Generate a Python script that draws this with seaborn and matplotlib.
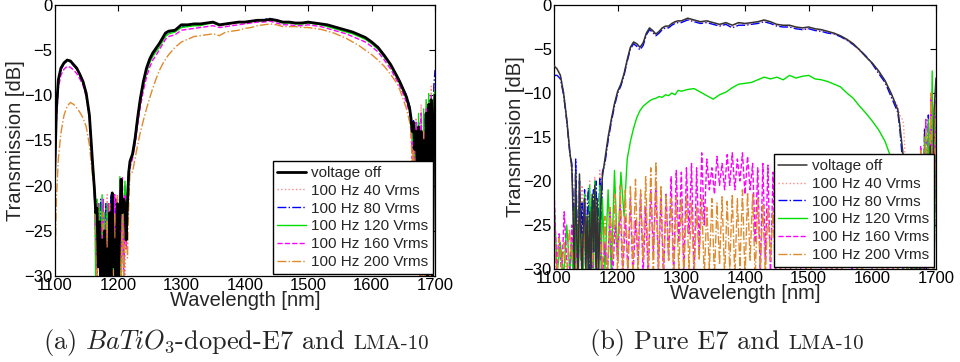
import numpy as np
import matplotlib
matplotlib.use("Agg")
import matplotlib.pyplot as plt
from matplotlib.offsetbox import TextArea, HPacker, AnnotationBbox
import seaborn as sns

sns.set_style("white")
plt.rcParams['font.family'] = ['Liberation Sans', 'DejaVu Sans']
plt.rcParams['mathtext.fontset'] = 'cm'

labels = ["voltage off", "100 Hz 40 Vrms", "100 Hz 80 Vrms",
          "100 Hz 120 Vrms", "100 Hz 160 Vrms", "100 Hz 200 Vrms"]

# ---------------- panel (a): BaTiO3-doped E7 ----------------
wl_a = ([1100, 1103, 1106, 1110, 1115, 1120, 1125, 1130, 1135, 1140, 1145, 1150, 1155, 1160]
        + list(range(1163, 1220, 2))
        + [1223, 1227, 1231, 1235, 1240, 1245, 1250, 1255, 1260, 1265, 1270, 1275]
        + list(range(1280, 1641, 10))
        + [1645, 1650, 1655, 1660]
        + list(range(1662, 1701, 2)))

a_off = ([-19.5, -11.5, -8.3, -7.0, -6.4, -6.1, -6.2, -6.6, -7.0, -7.7, -8.5, -9.8, -12.2, -17.5]
         + [-20.5, -23, -22.5, -29, -24, -31, -26, -31, -25, -30, -27, -31, -23, -30, -20.8,
            -29, -26, -31, -22, -30, -24, -19.3, -23, -21.5, -22, -26, -22, -18.5, -17.3]
         + [-16.5, -14.8, -12.5, -10.5, -8.5, -7.0, -6.0, -5.3, -4.8, -4.3, -3.7, -3.1]
         + [-2.9, -2.8, -2.2, -2.2, -2.1, -2.1, -2.0, -1.9, -2.2, -2.1,
            -2.0, -1.9, -1.9, -1.8, -1.7, -1.7, -1.6, -1.7, -1.9, -1.9,
            -2.0, -2.0, -1.9, -2.0, -2.1, -2.2, -2.4, -2.6, -2.8, -3.0,
            -3.3, -3.6, -4.1, -4.7, -5.6, -6.6, -7.9]
         + [-8.6, -9.4, -10.2, -11.5]
         + [-12.5, -14, -13, -16, -14, -18, -13.5, -20, -14, -24, -15, -27, -12, -30, -11, -29, -10.5, -31, -14, -10])

a_40 = ([-19.8, -11.8, -8.5, -7.1, -6.5, -6.2, -6.3, -6.7, -7.1, -7.8, -8.6, -9.9, -12.4, -17.8]
        + [-21, -24, -21.5, -28, -23, -30, -22, -31, -24, -29, -21, -31, -25, -30, -22,
           -31, -23, -29, -21, -30, -25, -20.5, -27, -22, -30, -21, -24, -19, -17.8]
        + [-16.8, -15.1, -12.9, -10.9, -8.9, -7.4, -6.4, -5.6, -5.1, -4.6, -4.0, -3.4]
        + [-3.1, -2.9, -2.5, -2.4, -2.3, -2.3, -2.1, -2.0, -2.3, -2.2,
           -2.1, -2.0, -2.0, -1.9, -1.8, -1.7, -1.6, -1.8, -2.0, -2.0,
           -2.1, -2.1, -2.0, -2.1, -2.2, -2.3, -2.5, -2.7, -2.9, -3.1,
           -3.4, -3.7, -4.2, -4.8, -5.7, -6.7, -8.0]
        + [-8.7, -9.5, -10.3, -11.3]
        + [-12, -15, -13.5, -19, -12.5, -22, -14, -25, -11, -28, -13, -31, -10.5, -27, -12, -30, -9, -26, -10, -8.5])

a_80 = ([-20.0, -12.0, -8.6, -7.2, -6.5, -6.2, -6.3, -6.7, -7.1, -7.8, -8.6, -9.9, -12.3, -17.6]
        + [-20.8, -26, -31, -22, -29, -21.5, -31, -24, -28, -22, -31, -25, -29, -21, -31,
           -23, -30, -21.5, -31, -26, -20, -31, -22, -29, -20, -25, -21, -18.5, -17.6]
        + [-16.4, -14.6, -12.4, -10.4, -8.5, -7.1, -6.2, -5.5, -5.0, -4.5, -3.9, -3.3]
        + [-3.0, -2.9, -2.4, -2.3, -2.2, -2.2, -2.0, -1.9, -2.2, -2.1,
           -2.0, -1.9, -1.9, -1.8, -1.7, -1.6, -1.5, -1.7, -1.9, -1.9,
           -2.0, -2.0, -1.9, -2.0, -2.1, -2.2, -2.4, -2.6, -2.8, -3.0,
           -3.3, -3.6, -4.1, -4.7, -5.6, -6.6, -7.9]
        + [-8.5, -9.3, -10.0, -11.2]
        + [-13, -16, -12.8, -20, -14.5, -23, -13, -27, -15, -30, -12, -31, -14, -28, -10.5, -31, -11, -25, -9, -7.2])

a_120 = ([-19.6, -11.6, -8.4, -7.0, -6.4, -6.1, -6.2, -6.6, -7.0, -7.7, -8.5, -9.8, -12.2, -17.4]
         + [-20, -31, -21.5, -27, -22, -31, -21, -29, -23, -31, -22, -28, -24, -31, -21,
            -30, -25, -31, -22, -29, -19, -31, -20, -27, -19.5, -23, -20, -18.2, -17.5]
         + [-16.7, -15.0, -12.8, -10.9, -9.0, -7.5, -6.4, -5.7, -5.2, -4.7, -4.1, -3.5]
         + [-3.2, -3.0, -2.5, -2.4, -2.3, -2.3, -2.1, -2.0, -2.3, -2.1,
            -2.0, -1.9, -1.9, -1.8, -1.7, -1.7, -1.6, -1.8, -2.0, -2.0,
            -2.1, -2.1, -2.0, -2.1, -2.2, -2.4, -2.6, -2.8, -3.0, -3.2,
            -3.5, -3.8, -4.3, -4.9, -5.8, -6.8, -8.1]
         + [-8.8, -9.6, -10.4, -11.6]
         + [-13.5, -15, -14, -21, -13, -24, -12, -28, -14, -31, -11.5, -29, -10.5, -31, -9.8, -27, -12, -30, -10, -9.5])

a_160 = ([-21.0, -12.8, -9.2, -7.8, -7.1, -6.8, -6.9, -7.2, -7.6, -8.2, -8.9, -10.2, -12.6, -18.0]
         + [-21, -25, -31, -22, -29, -24, -31, -21.5, -30, -25, -31, -22, -28, -31, -23,
            -29, -21, -31, -24, -30, -20.5, -28, -19, -31, -21, -27, -22, -19, -18]
         + [-17.0, -15.4, -13.3, -11.4, -9.5, -8.0, -6.9, -6.1, -5.6, -5.0, -4.4, -3.8]
         + [-3.5, -3.3, -2.8, -2.7, -2.6, -2.5, -2.4, -2.3, -2.5, -2.4,
            -2.3, -2.2, -2.1, -2.0, -1.9, -1.9, -1.8, -2.0, -2.2, -2.2,
            -2.3, -2.3, -2.2, -2.3, -2.4, -2.6, -2.8, -3.0, -3.2, -3.5,
            -3.8, -4.1, -4.6, -5.2, -6.1, -7.1, -8.4]
         + [-9.1, -9.9, -10.8, -12.0]
         + [-13.5, -17, -15, -22, -13, -26, -15, -30, -12, -31, -14, -28, -11.5, -31, -12, -29, -10, -31, -12, -10])

a_200 = ([-30.5, -21.5, -17.0, -14.2, -12.2, -11.2, -10.8, -11.0, -11.4, -11.9, -12.5, -13.5, -15.5, -19.0]
         + [-20, -24, -31, -22.5, -30, -26, -31, -23, -29, -31, -24, -30, -22, -31, -25,
            -30, -23, -31, -21, -29, -24, -31, -22, -30, -26, -23, -28, -22, -18.5]
         + [-18.5, -17.0, -15.5, -14.2, -12.8, -11.5, -10.3, -9.2, -8.2, -7.3, -6.6, -6.0]
         + [-5.5, -4.7, -4.1, -3.8, -3.5, -3.4, -3.3, -3.2, -3.4, -3.0,
            -2.9, -2.8, -2.6, -2.5, -2.3, -2.2, -2.1, -2.2, -2.4, -2.4,
            -2.4, -2.5, -2.5, -2.6, -2.7, -2.9, -3.1, -3.4, -3.7, -4.1,
            -4.5, -5.0, -5.5, -6.1, -6.8, -7.7, -8.7]
         + [-9.5, -10.5, -11.5, -13.0]
         + [-14, -18, -15.5, -24, -16, -29, -15, -31, -16, -30, -14, -31, -15, -28, -13, -31, -14, -29, -12, -11])

# ---------------- panel (b): pure E7 ----------------
wl_b = ([1100, 1105, 1110, 1115, 1120, 1125]
        + list(range(1128, 1177, 2))
        + list(range(1180, 1301, 5))
        + list(range(1310, 1641, 10))
        + list(range(1643, 1701, 3)))

b_off = ([-6.9, -7.3, -8.0, -10.0, -13.0, -16.8]
         + [-18.5, -24, -30.5, -19, -27, -31, -19.2, -26, -31, -25, -22, -30, -24, -31, -23.5,
            -30, -21.5, -28, -20.5, -31, -22, -30.5, -25, -22, -19.5]
         + [-17.5, -15.0, -13.0, -11.2, -9.8, -9.0, -7.8, -6.2, -4.8, -4.2, -4.4, -4.8, -4.3,
            -3.2, -2.6, -2.9, -3.3, -3.0, -2.6, -2.4, -2.4, -2.1, -1.9, -1.8, -1.8]
         + [-1.5, -1.7, -1.9, -1.8, -2.0, -2.2, -2.0, -2.3, -2.0, -2.1,
            -2.0, -1.9, -1.7, -1.9, -2.2, -2.3, -2.3, -2.5, -2.6, -2.5,
            -2.7, -2.8, -3.0, -3.2, -3.5, -3.9, -4.4, -5.1, -5.9, -6.6,
            -7.5, -8.6, -10.1, -11.9]
         + [-13.5, -15.5, -17.5, -22, -19, -25, -30.5, -28, -20, -30.5,
            -23, -31, -19, -30, -18, -27, -16, -29, -12, -8.3])

b_40 = ([-6.8, -7.2, -7.9, -9.8, -12.8, -16.5]
        + [-19.5, -23, -29, -21, -25, -31, -22, -28, -20.5, -30, -24, -21.5, -29, -25, -20,
           -31, -22, -27, -19.5, -29, -23, -31, -18.8, -24, -19.2]
        + [-17.8, -15.2, -13.1, -11.3, -9.9, -9.1, -7.9, -6.3, -4.9, -4.3, -4.5, -4.9, -4.4,
           -3.3, -2.7, -3.0, -3.4, -3.1, -2.7, -2.5, -2.5, -2.2, -2.0, -1.9, -1.9]
        + [-1.6, -1.8, -2.0, -1.9, -2.1, -2.3, -2.1, -2.4, -2.1, -2.2,
           -2.1, -2.0, -1.8, -2.0, -2.3, -2.4, -2.4, -2.6, -2.8, -2.7,
           -2.8, -2.9, -3.1, -3.3, -3.6, -4.0, -4.5, -5.2, -5.9, -6.7,
           -7.6, -8.7, -10.2, -11.5]
        + [-12.5, -12.8, -13.5, -18, -24, -30.5, -27, -31, -22, -30,
           -21, -31, -19, -29, -17, -30.5, -14, -28, -12.5, -9.5])

b_80 = ([-8.0, -8.0, -8.4, -10.2, -13.2, -17.0]
        + [-18, -22, -30.5, -17.5, -24, -31, -20, -27, -22.5, -31, -21, -29, -24, -20.8, -30,
           -23, -31, -21, -28, -20, -31, -24, -19.6, -29, -19]
        + [-18.0, -15.4, -13.3, -11.5, -10.0, -9.2, -8.0, -6.4, -5.0, -4.4, -4.7, -5.1, -4.6,
           -3.4, -2.8, -3.1, -3.5, -3.2, -2.8, -2.6, -2.6, -2.3, -2.1, -2.0, -2.0]
        + [-1.7, -1.9, -2.1, -2.0, -2.2, -2.4, -2.2, -2.6, -2.3, -2.3,
           -2.2, -2.1, -1.9, -2.1, -2.4, -2.5, -2.5, -2.7, -2.8, -2.7,
           -2.9, -3.0, -3.2, -3.3, -3.6, -4.0, -4.5, -5.1, -5.8, -6.7,
           -7.8, -8.8, -10.5, -12.2]
        + [-14, -16.5, -19, -24, -30.5, -27, -31, -24, -30, -21,
           -31, -17, -29, -14, -31, -12.5, -28, -15, -30, -11])

b_120 = ([-22, -30.5, -27, -31, -25, -30.5]
         + [-27, -31, -23, -30, -25, -31, -22.5, -29, -26, -31, -21.5, -30, -24, -31, -20.5,
            -28, -22, -31, -20, -29, -23, -31, -20.5, -30, -22]
         + [-30, -21, -30.5, -18.8, -29, -19, -24, -17.5, -15.5, -14, -12.8, -12, -11.5,
            -11.2, -10.9, -10.7, -10.6, -10.4, -10.5, -10.2, -10.3, -10.0, -10.2, -9.7, -9.8]
         + [-9.6, -9.5, -9.9, -10.3, -10.7, -10.2, -9.9, -9.4, -9.0, -8.9,
            -8.8, -8.5, -8.2, -8.4, -8.2, -8.5, -8.0, -8.3, -8.1, -8.0,
            -8.4, -8.5, -8.7, -9.0, -9.3, -10.0, -10.6, -11.5, -12.3, -13.2,
            -14.2, -15.5, -17.5, -21]
         + [-22, -28, -30.5, -25, -31, -24, -30, -22, -30.5, -18,
            -29, -17, -30, -15, -28, -13, -26, -7.5, -30.5, -12])

wl_bn = list(range(1100, 1701, 4))

b_160 = ([-20.5, -30, -26, -31, -23.5, -29, -31, -25, -30.5, -28,
          -24, -31, -22.5, -29, -26, -31, -23, -30, -24.5, -31,
          -27, -30.5, -23, -31, -25, -29, -22.5, -31, -24, -30,
          -22, -31, -24.5, -29, -21.5, -30.5, -23, -31, -21, -28,
          -20.8, -30, -22, -31, -21.5, -29, -19.5, -31, -18.8, -27,
          -19, -30.5, -18.5, -26, -18, -31, -18.5, -28, -16.8, -25,
          -17.5, -21, -18.5, -21.5, -17.2, -20.5, -18, -21, -17, -20.5,
          -16.8, -21, -17.5, -20, -16.8, -21.5, -17.2, -21, -18, -27,
          -18.5, -31, -18, -29, -18.2, -31, -19, -30, -19.5, -31,
          -20, -30, -21, -31, -20.5, -29, -21.5, -31, -20, -30.5,
          -21, -31, -20.5, -29, -22, -31, -21, -30, -22.5, -31,
          -23, -30, -22, -31, -24, -29, -23, -31, -24.5, -30,
          -25, -31, -24, -30, -23.5, -31, -25, -29, -24, -31,
          -22, -30, -23, -31, -21, -29, -20, -31, -19, -30,
          -17, -31, -18, -29, -16, -31, -13, -28, -10.5, -31,
          -9.5])

b_200 = ([-25, -31, -26.5, -30, -27, -31, -25.5, -29, -27.5, -31,
          -24.5, -30, -26, -31, -25, -29.5, -24, -31, -26, -30,
          -24, -31, -23, -29, -21.5, -31, -20.5, -30, -21, -31,
          -20.5, -30, -19.8, -31, -21, -29, -19.5, -30.5, -18.5, -31,
          -17.8, -30, -20.5, -31, -21.5, -29, -22, -31, -21.8, -30,
          -22, -31, -21.5, -30, -22.5, -31, -23, -29, -22, -31,
          -23, -30, -22, -31, -22.5, -29.5, -21.8, -31, -22.3, -30,
          -21.5, -31, -22, -30, -21, -31, -21.3, -29, -21.5, -31,
          -22, -30, -22.8, -31, -23, -29, -23.5, -31, -22.5, -30,
          -22, -31, -23, -30, -22.5, -31, -24, -29, -23, -31,
          -23.5, -30, -24, -31, -23, -29, -24.5, -31, -23, -30,
          -24, -31, -25, -30, -24, -31, -25.5, -29, -24, -31,
          -25, -30, -24, -31, -25, -29, -26, -31, -24.5, -30,
          -24, -31, -23, -30, -22, -31, -21, -29, -20, -31,
          -19, -30, -18, -31, -16.5, -29, -14, -31, -10, -30,
          -11])

# ---------------- styles ----------------
colors = ["#000000", "#ff8c8c", "#0000ff", "#00e000", "#ff00ff", "#e08a2c"]
styles = ["-", ":", "-.", "-", "--", "-."]

fig = plt.figure(figsize=(9.6, 3.62), dpi=100)
ax_a = fig.add_axes([0.0568, 0.2376, 0.3964, 0.7488])
ax_b = fig.add_axes([0.5771, 0.2569, 0.3979, 0.7293])

panels = [
    (ax_a, [(wl_a, a_off), (wl_a, a_40), (wl_a, a_80), (wl_a, a_120), (wl_a, a_160), (wl_a, a_200)], 2.0, "#000000"),
    (ax_b, [(wl_b, b_off), (wl_b, b_40), (wl_b, b_80), (wl_b, b_120), (wl_bn, b_160), (wl_bn, b_200)], 1.1, "#333333"),
]

for ax, series, lw0, c0 in panels:
    for i, ((x, y), lab) in enumerate(zip(series, labels)):
        col = c0 if i == 0 else colors[i]
        lw = lw0 if i == 0 else 1.0
        sns.lineplot(x=np.array(x, float), y=np.array(y, float), ax=ax, color=col,
                     linestyle=styles[i], linewidth=lw, label=lab,
                     sort=False, estimator=None, zorder=3 if i == 0 else 2)
    ax.set_xlim(1100, 1700)
    ax.set_ylim(-30, 0)
    ax.set_xticks(range(1100, 1701, 100))
    ax.set_yticks([0, -5, -10, -15, -20, -25, -30])
    ax.tick_params(direction="in", top=True, right=True, length=4, width=0.8,
                   labelsize=12, pad=1.5, colors="black")
    for sp in ax.spines.values():
        sp.set_color("black")
        sp.set_linewidth(0.9)
    ax.set_xlabel("Wavelength [nm]", fontsize=14.5, labelpad=-1.5)
    ax.set_ylabel("Transmission [dB]", fontsize=14.5, labelpad=-1)
    leg = ax.legend(loc="lower right", fontsize=11, frameon=True, fancybox=False,
                    framealpha=1, edgecolor="black", borderaxespad=0.15,
                    handlelength=1.9, handletextpad=0.3, labelspacing=0.25,
                    borderpad=0.3)
    leg.get_frame().set_linewidth(1.0)


def caption(xc, yc, main, small):
    serif = ["cmr10", "DejaVu Serif"]
    t1 = TextArea(main, textprops=dict(fontsize=19, family=serif))
    t2 = TextArea(small, textprops=dict(fontsize=15, family=serif))
    box = HPacker(children=[t1, t2], align="baseline", pad=0, sep=6)
    ab = AnnotationBbox(box, (xc, yc), xycoords="figure fraction",
                        frameon=False, box_alignment=(0.5, 0.5))
    fig.add_artist(ab)


caption(0.246, 0.055, r"(a) $BaTiO_3$-doped-E7 and", "LMA-10")
caption(0.757, 0.055, "(b) Pure E7 and", "LMA-10")

fig.savefig("out.png", dpi=100)
